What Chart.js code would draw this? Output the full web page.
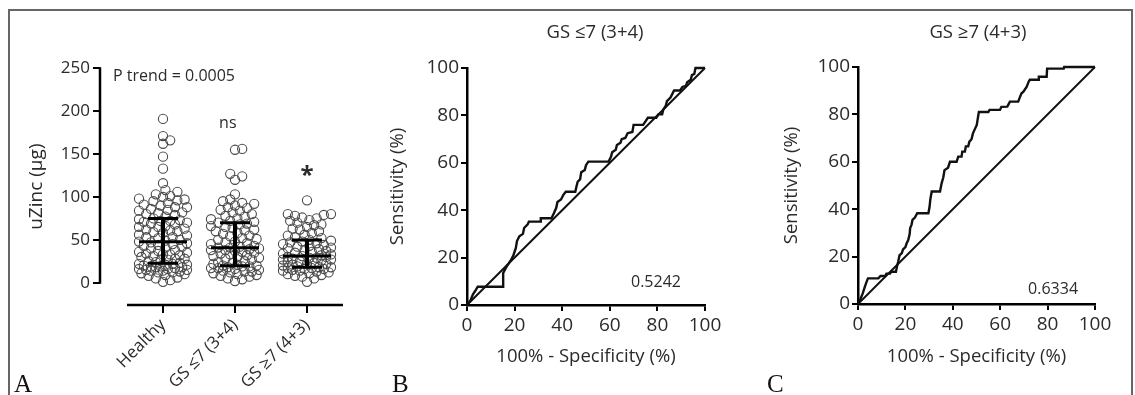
<!DOCTYPE html>
<html>
<head>
<meta charset="utf-8">
<script src="https://cdn.jsdelivr.net/npm/chart.js@4.4.1/dist/chart.umd.min.js"></script>
<style>
  body { margin: 0; background: #fff; width: 1135px; height: 395px; overflow: hidden; position: relative; }
  #frame { position: absolute; left: 8px; top: 9px; width: 1121px; height: 420px; border: 2px solid #666; }
  canvas { position: absolute; top: 0; }
  .letter { position: absolute; top: 371px; font: 25px 'Liberation Serif', serif; line-height: 25px; color: #111; }
</style>
</head>
<body>
<div id="frame"></div>
<canvas id="chartA" width="366" height="395" style="left:12px"></canvas>
<canvas id="chartB" width="380" height="395" style="left:380px"></canvas>
<canvas id="chartC" width="375" height="395" style="left:760px"></canvas>
<div class="letter" style="left:14px">A</div>
<div class="letter" style="left:392px">B</div>
<div class="letter" style="left:767px">C</div>
<script>
// ---- panel A: urinary zinc by group ----
const categoriesA = ['Healthy', 'GS ≤7 (3+4)', 'GS ≥7 (4+3)'];
const yTicksA = [0, 50, 100, 150, 200, 250];

const healthy = [
  1, 3, 5, 6, 8, 9, 10, 11, 12, 12, 13, 14, 14, 15, 15, 16, 16, 17, 18, 18, 19, 19, 20, 21, 21, 22, 22,
  23, 24, 25, 26, 27, 28, 28, 30, 31, 32, 33, 33, 34, 35, 36, 37, 38, 40, 41, 42, 43, 44, 45, 46, 47, 48,
  49, 50, 52, 53, 53, 55, 56, 58, 59, 60, 61, 62, 63, 65, 65, 66, 68, 69, 70, 71, 72, 72, 73, 74, 75,
  77, 79, 80, 81, 82, 84, 85, 86, 88, 88, 90, 91, 93, 95, 96, 97, 98, 100, 101, 103, 106, 108,
  116, 133, 147, 162, 166, 171, 191
];
const gsLow = [
  2, 4, 5, 7, 8, 9, 10, 11, 12, 13, 13, 14, 15, 16, 17, 17, 18, 19, 19, 20, 20,
  21, 22, 23, 24, 25, 27, 28, 29, 30, 31, 32, 33, 34, 35, 36, 37, 38, 38, 39, 40, 41, 41,
  42, 43, 45, 46, 47, 48, 50, 51, 52, 54, 55, 57, 58, 60, 61, 62, 64, 65, 66, 68, 69, 70,
  71, 72, 74, 75, 77, 78, 80, 82, 84, 85, 87, 88, 90, 92, 93, 95, 97,
  103, 120, 124, 127, 155, 156
];
const gsHigh = [
  1, 5, 7, 8, 9, 10, 11, 12, 13, 14, 14, 15, 16, 16, 17, 17, 18, 18,
  19, 20, 21, 22, 22, 23, 24, 25, 26, 27, 27, 28, 29, 29, 30, 30, 31,
  32, 33, 34, 35, 36, 37, 38, 39, 40, 41, 42, 43, 44, 45, 46, 47, 48, 49,
  50, 52, 53, 55, 56, 58, 60, 62, 63, 65, 67, 68, 70, 72, 73, 75, 76, 78, 79, 80, 80, 96
];
const medianA = [47.8, 40.8, 31];
const q1A = [22.6, 19.8, 18];
const q3A = [75, 70, 49.8];

// ---- panels B, C: ROC curves ----
const rocTicks = [0, 20, 40, 60, 80, 100];
const diagFpr = [0, 100];
const diagTpr = [0, 100];

const rocB_fpr = [0, 1.5, 2.5, 3.5, 4.5, 15.2, 15.2, 16.5, 18.5, 19.5, 20.5, 21, 22, 23.5, 24, 25.5, 26, 30.8, 31, 35.5,
  36.5, 37.5, 38, 39.5, 40.5, 41.5, 45.5, 46, 46.5, 47.5, 48, 49.5, 50, 51, 59.5, 60.5, 61, 62.5, 63, 64.5,
  65, 66.5, 67.5, 69.5, 70, 74, 75, 76, 79.5, 80.5, 82, 82.5, 83.5, 84, 85.5, 86.5, 87, 89.5, 90.5, 92,
  92.5, 94, 94.5, 95.5, 96, 98.6, 100];
const rocB_tpr = [0, 2, 4.5, 6, 7.7, 7.7, 13.5, 16, 19, 21, 24, 27, 29, 30, 32.5, 34, 35.2, 35.2, 36.6, 36.6,
  38.7, 41, 43.5, 44.5, 46.5, 47.8, 47.8, 50, 52, 53, 56, 57, 59, 60.5, 60.5, 62.5, 64.5, 65.5, 67.5, 68.5,
  70, 70.5, 72.5, 73, 76, 76, 77.5, 79, 79, 80.5, 80.5, 82.5, 84, 86, 87.5, 89.5, 90.5, 90.5, 92, 92.5,
  94, 95, 97, 97.5, 100, 100, 100];

const rocC_fpr = [0, 1, 2, 2.8, 3.5, 4.2, 8.6, 9.5, 11.5, 12, 13.5, 14, 16, 16.5, 17, 17.5, 18.5, 19, 20, 20.5,
  21.2, 21.8, 22, 22.6, 23, 24, 25, 29.7, 30.2, 30.5, 31.1, 34.6, 35.3, 36, 36.5, 38, 38.8, 41.6, 42.3, 43.7,
  44, 45.1, 45.5, 46.5, 47, 47.9, 48.5, 49.4, 50.1, 50.5, 51, 55, 55.5, 59.9, 60.5, 63, 64.1, 67.6, 68.4, 69,
  69.8, 71.2, 72, 72.5, 76, 76.3, 79.6, 79.8, 86.8, 87, 100];
const rocC_tpr = [0, 2, 4.5, 7, 9, 10.8, 10.8, 11.8, 11.8, 12.8, 12.8, 13.6, 13.6, 16, 18, 20.5, 21.5, 23, 24, 25.5,
  27, 29.5, 32, 33.5, 35.5, 36.5, 38.3, 38.3, 41, 44, 47.5, 47.5, 51, 53.5, 56.5, 57.5, 60, 60, 62.2, 62.2,
  64.3, 64.3, 66.5, 66.5, 68.5, 69.5, 72, 74, 75.5, 78, 81, 81, 81.9, 81.9, 83.2, 83.3, 85.4, 85.4, 87.5, 88.9,
  89.6, 91.7, 93.8, 94.6, 94.6, 95.9, 95.9, 99.3, 99.3, 100, 100];

const titleB = 'GS ≤7 (3+4)';
const titleC = 'GS ≥7 (4+3)';
const aucB = '0.5242';
const aucC = '0.6334';

// ---- helpers ----
const FONT = "'Open Sans', sans-serif";
const INK = '#2b2b2b';
const PX_PER_CAT = 72;     // px between group centres in panel A
const PX_PER_UG = 0.8576;  // px per µg on panel A y axis

// simple beeswarm: place sorted values at the nearest free horizontal slot
function swarm(values, centre) {
  const placed = [];
  const D = 7, STEP = 2.4, LIMIT = 26;
  [...values].sort((a, b) => a - b).forEach(v => {
    const py = v * PX_PER_UG;
    let best = null, bestGap = -1;
    for (let k = 0; ; k++) {
      const off = (k % 2 ? 1 : -1) * Math.ceil(k / 2) * STEP;
      if (Math.abs(off) > LIMIT) break;
      let gap = Infinity;
      for (const p of placed) {
        if (Math.abs(p.py - py) < D) gap = Math.min(gap, Math.hypot(p.px - off, p.py - py));
      }
      if (gap >= D) { best = off; break; }
      if (gap > bestGap) { bestGap = gap; best = off; }
    }
    placed.push({ px: best, py });
  });
  return placed.map(p => ({ x: centre + p.px / PX_PER_CAT, y: p.py / PX_PER_UG }));
}

const toPoints = (xs, ys) => xs.map((x, i) => ({ x, y: ys[i] }));
const fixTicks = values => scale => { scale.ticks = values.map(value => ({ value })); };

// text placed in data coordinates
const notesPlugin = {
  id: 'notes',
  afterDraw(chart, args, opts) {
    const { ctx, scales: { x, y } } = chart;
    ctx.save();
    (opts.items || []).forEach(n => {
      ctx.font = n.font;
      ctx.fillStyle = INK;
      ctx.textAlign = n.align || 'center';
      ctx.textBaseline = 'middle';
      ctx.fillText(n.text, x.getPixelForValue(n.x), y.getPixelForValue(n.y));
    });
    ctx.restore();
  }
};

// GraphPad-style detached axis lines for panel A
const axisLinesPlugin = {
  id: 'axisLines',
  afterDraw(chart, args, opts) {
    if (!opts.enabled) return;
    const { ctx, chartArea, scales: { x, y } } = chart;
    ctx.save();
    ctx.strokeStyle = '#000';
    ctx.lineWidth = 2.5;
    ctx.beginPath();
    ctx.moveTo(chartArea.left, y.getPixelForValue(opts.yTo) - 1);
    ctx.lineTo(chartArea.left, y.getPixelForValue(opts.yFrom) + 1);
    ctx.moveTo(x.getPixelForValue(opts.xFrom), chartArea.bottom);
    ctx.lineTo(x.getPixelForValue(opts.xTo), chartArea.bottom);
    ctx.stroke();
    ctx.restore();
  }
};

// median with interquartile range
const summaryPlugin = {
  id: 'summary',
  afterDatasetsDraw(chart, args, opts) {
    if (!opts.median) return;
    const { ctx, scales: { x, y } } = chart;
    ctx.save();
    ctx.strokeStyle = '#000';
    opts.median.forEach((m, i) => {
      const cx = x.getPixelForValue(i + 1);
      const ym = y.getPixelForValue(m), y1 = y.getPixelForValue(opts.q1[i]), y3 = y.getPixelForValue(opts.q3[i]);
      ctx.lineWidth = 3;
      ctx.beginPath();
      ctx.moveTo(cx - 24, ym); ctx.lineTo(cx + 24, ym);
      ctx.moveTo(cx - 15, y1); ctx.lineTo(cx + 15, y1);
      ctx.moveTo(cx - 15, y3); ctx.lineTo(cx + 15, y3);
      ctx.stroke();
      ctx.lineWidth = 4;
      ctx.beginPath();
      ctx.moveTo(cx, y1); ctx.lineTo(cx, y3);
      ctx.stroke();
    });
    ctx.restore();
  }
};

Chart.defaults.font.family = FONT;
Chart.defaults.color = INK;
Chart.defaults.animation = false;
Chart.defaults.responsive = false;
Chart.defaults.events = [];
Chart.defaults.plugins.legend.display = false;
Chart.defaults.plugins.tooltip.enabled = false;

const tickGrid = len => ({ drawOnChartArea: false, color: '#000', lineWidth: 2, tickLength: len });

function drawA() {
  new Chart(document.getElementById('chartA'), {
    type: 'scatter',
    data: {
      datasets: [healthy, gsLow, gsHigh].map((vals, i) => ({
        data: swarm(vals, i + 1),
        pointRadius: 4.6,
        borderWidth: 1.1,
        borderColor: '#4a4a4a',
        backgroundColor: 'rgba(255,255,255,0)',
        clip: false
      }))
    },
    options: {
      layout: { padding: { top: 68.3, right: 35, bottom: 0, left: 0 } },
      plugins: {
        axisLines: { enabled: true, yFrom: 0, yTo: 250, xFrom: 0.5, xTo: 3.5 },
        summary: { median: medianA, q1: q1A, q3: q3A },
        notes: {
          items: [
            { text: 'P trend = 0.0005', x: 0.305, y: 241, align: 'left', font: `16px ${FONT}` },
            { text: 'ns', x: 1.9, y: 186, font: `16px ${FONT}` },
            { text: '*', x: 3, y: 124, font: `bold 24px ${FONT}` }
          ]
        }
      },
      scales: {
        x: {
          type: 'linear', min: 0.125, max: 3.5,
          afterBuildTicks: fixTicks([1, 2, 3]),
          afterFit: s => { s.height = 90; },
          border: { display: false },
          grid: tickGrid(8),
          ticks: { autoSkip: false, minRotation: 45, maxRotation: 45, padding: 2, font: { size: 17 },
                   callback: v => categoriesA[v - 1] }
        },
        y: {
          min: -26, max: 250,
          afterBuildTicks: fixTicks(yTicksA),
          afterFit: s => { s.width = 88; },
          border: { display: false },
          grid: tickGrid(7),
          ticks: { padding: 3, font: { size: 17 } },
          title: { display: true, text: 'uZinc (µg)', font: { size: 19 }, padding: { top: 13.6, bottom: 0 } }
        }
      }
    },
    plugins: [axisLinesPlugin, summaryPlugin, notesPlugin]
  });
}

function drawRoc(id, fpr, tpr, title, auc, pad, titlePos, aucPos) {
  new Chart(document.getElementById(id), {
    type: 'scatter',
    data: {
      datasets: [
        { data: toPoints(fpr, tpr), showLine: true, borderColor: '#111', borderWidth: 2.4, pointRadius: 0, clip: false },
        { data: toPoints(diagFpr, diagTpr), showLine: true, borderColor: '#111', borderWidth: 2, pointRadius: 0, clip: false }
      ]
    },
    options: {
      layout: { padding: { top: pad.top, right: pad.right, bottom: 0, left: 0 } },
      plugins: {
        notes: {
          items: [
            { text: title, x: titlePos[0], y: titlePos[1], font: `18.5px ${FONT}` },
            { text: auc, x: aucPos[0], y: aucPos[1], font: `16px ${FONT}` }
          ]
        }
      },
      scales: {
        x: {
          type: 'linear', min: 0, max: 100,
          afterBuildTicks: fixTicks(rocTicks),
          afterFit: s => { s.height = pad.bottom; },
          border: { color: '#000', width: 2.5 },
          grid: tickGrid(6),
          ticks: { padding: 3, font: { size: 19 } },
          title: { display: true, text: '100% - Specificity (%)', font: { size: 18.5 }, padding: { top: 0, bottom: pad.xTitle } }
        },
        y: {
          min: 0, max: 100,
          afterBuildTicks: fixTicks(rocTicks),
          afterFit: s => { s.width = pad.left; },
          border: { color: '#000', width: 2.5 },
          grid: tickGrid(6),
          ticks: { padding: 2, font: { size: 19 } },
          title: { display: true, text: 'Sensitivity (%)', font: { size: 18.5 }, padding: { top: pad.yTitle, bottom: 0 } }
        }
      }
    },
    plugins: [notesPlugin]
  });
}

function drawAll() {
  drawA();
  drawRoc('chartB', rocB_fpr, rocB_tpr, titleB, aucB,
    { top: 68, right: 55, bottom: 90, left: 87, xTitle: 27, yTitle: 7 }, [53.8, 114.8], [79.4, 9.7]);
  drawRoc('chartC', rocC_fpr, rocC_tpr, titleC, aucC,
    { top: 67, right: 40, bottom: 91, left: 98, xTitle: 27, yTitle: 20.6 }, [50.6, 114.3], [82.3, 6.3]);
}

Promise.all([
  document.fonts.load(`16px ${FONT}`),
  document.fonts.load(`bold 16px ${FONT}`)
]).then(drawAll, drawAll);
</script>
</body>
</html>
